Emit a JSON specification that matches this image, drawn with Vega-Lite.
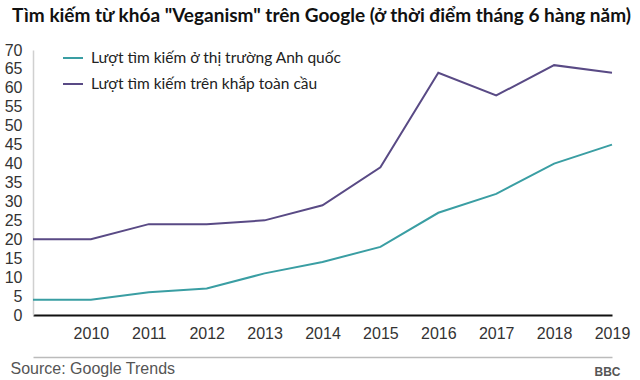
{
  "$schema": "https://vega.github.io/schema/vega-lite/v6.json",
  "width": 579,
  "height": 265,
  "autosize": {"type": "none"},
  "padding": {"left": 33, "top": 50, "right": 28, "bottom": 65},
  "background": "white",
  "title": {
    "text": "Tìm kiếm từ khóa \"Veganism\" trên Google (ở thời điểm tháng 6 hàng năm)",
    "anchor": "start",
    "frame": "group",
    "dx": -21,
    "offset": 1,
    "baseline": "alphabetic",
    "font": "Lato",
    "fontSize": 19,
    "fontWeight": "bold",
    "color": "#111"
  },
  "config": {
    "view": {"stroke": null},
    "axis": {"labelFont": "Liberation Sans", "labelFontSize": 16, "labelColor": "#333", "grid": false, "ticks": false}
  },
  "data": {
    "values": [
      {"year": 2009, "series": "Lượt tìm kiếm ở thị trường Anh quốc", "value": 4},
      {"year": 2010, "series": "Lượt tìm kiếm ở thị trường Anh quốc", "value": 4},
      {"year": 2011, "series": "Lượt tìm kiếm ở thị trường Anh quốc", "value": 6},
      {"year": 2012, "series": "Lượt tìm kiếm ở thị trường Anh quốc", "value": 7},
      {"year": 2013, "series": "Lượt tìm kiếm ở thị trường Anh quốc", "value": 11},
      {"year": 2014, "series": "Lượt tìm kiếm ở thị trường Anh quốc", "value": 14},
      {"year": 2015, "series": "Lượt tìm kiếm ở thị trường Anh quốc", "value": 18},
      {"year": 2016, "series": "Lượt tìm kiếm ở thị trường Anh quốc", "value": 27},
      {"year": 2017, "series": "Lượt tìm kiếm ở thị trường Anh quốc", "value": 32},
      {"year": 2018, "series": "Lượt tìm kiếm ở thị trường Anh quốc", "value": 40},
      {"year": 2019, "series": "Lượt tìm kiếm ở thị trường Anh quốc", "value": 45},
      {"year": 2009, "series": "Lượt tìm kiếm trên khắp toàn cầu", "value": 20},
      {"year": 2010, "series": "Lượt tìm kiếm trên khắp toàn cầu", "value": 20},
      {"year": 2011, "series": "Lượt tìm kiếm trên khắp toàn cầu", "value": 24},
      {"year": 2012, "series": "Lượt tìm kiếm trên khắp toàn cầu", "value": 24},
      {"year": 2013, "series": "Lượt tìm kiếm trên khắp toàn cầu", "value": 25},
      {"year": 2014, "series": "Lượt tìm kiếm trên khắp toàn cầu", "value": 29},
      {"year": 2015, "series": "Lượt tìm kiếm trên khắp toàn cầu", "value": 39},
      {"year": 2016, "series": "Lượt tìm kiếm trên khắp toàn cầu", "value": 64},
      {"year": 2017, "series": "Lượt tìm kiếm trên khắp toàn cầu", "value": 58},
      {"year": 2018, "series": "Lượt tìm kiếm trên khắp toàn cầu", "value": 66},
      {"year": 2019, "series": "Lượt tìm kiếm trên khắp toàn cầu", "value": 64}
    ]
  },
  "resolve": {"axis": {"x": "independent", "y": "independent"}},
  "layer": [
    {
      "mark": {"type": "line", "strokeWidth": 2},
      "encoding": {
        "x": {
          "field": "year", "type": "quantitative",
          "scale": {"domain": [2009, 2019], "nice": false, "zero": false},
          "axis": {
            "title": null, "values": [2010, 2011, 2012, 2013, 2014, 2015, 2016, 2017, 2018, 2019],
            "format": "d", "labelPadding": 10, "labelFlush": false, "labelOverlap": false,
            "domainColor": "#111", "domainWidth": 2, "labelBaseline": "top"
          }
        },
        "y": {
          "field": "value", "type": "quantitative",
          "scale": {"domain": [0, 70], "nice": false},
          "axis": {
            "title": null, "values": [0, 5, 10, 15, 20, 25, 30, 35, 40, 45, 50, 55, 60, 65, 70],
            "labelPadding": 11, "labelFlush": false, "labelOverlap": false,
            "domainColor": "#d0d0d0", "domainWidth": 1.5
          }
        },
        "color": {
          "field": "series", "type": "nominal",
          "scale": {
            "domain": ["Lượt tìm kiếm ở thị trường Anh quốc", "Lượt tìm kiếm trên khắp toàn cầu"],
            "range": ["#3a9ea3", "#594a85"]
          },
          "legend": {
            "title": null, "orient": "none", "legendX": 29, "legendY": -3,
            "symbolType": "stroke", "symbolSize": 400, "symbolStrokeWidth": 2,
            "labelFont": "Lato", "labelFontSize": 15.5, "labelColor": "#222",
            "labelOffset": 7, "rowPadding": 6, "padding": 0, "labelLimit": 400
          }
        }
      }
    },
    {
      "mark": {"type": "point", "opacity": 0},
      "encoding": {
        "x": {
          "field": "year", "type": "quantitative",
          "scale": {"domain": [2009, 2019], "nice": false, "zero": false},
          "axis": {
            "orient": "bottom", "offset": 42, "labels": false, "ticks": false,
            "domainColor": "#bbbbbb", "domainWidth": 1.5,
            "title": "Source: Google Trends", "titleAnchor": "start", "titleAlign": "left",
            "titleX": -23, "titleY": 11, "titleBaseline": "middle",
            "titleFont": "Liberation Sans", "titleFontSize": 16, "titleFontWeight": "normal", "titleColor": "#555"
          }
        },
        "y": {
          "field": "value", "type": "quantitative",
          "scale": {"domain": [0, 70], "nice": false},
          "axis": {
            "orient": "right", "labels": false, "ticks": false, "domain": false,
            "title": "BBC", "titleAngle": 0, "titleAlign": "left", "titleBaseline": "middle",
            "titleX": -18, "titleY": 321,
            "titleFont": "Liberation Sans", "titleFontSize": 12, "titleFontWeight": "bold", "titleColor": "#555"
          }
        }
      }
    }
  ]
}
